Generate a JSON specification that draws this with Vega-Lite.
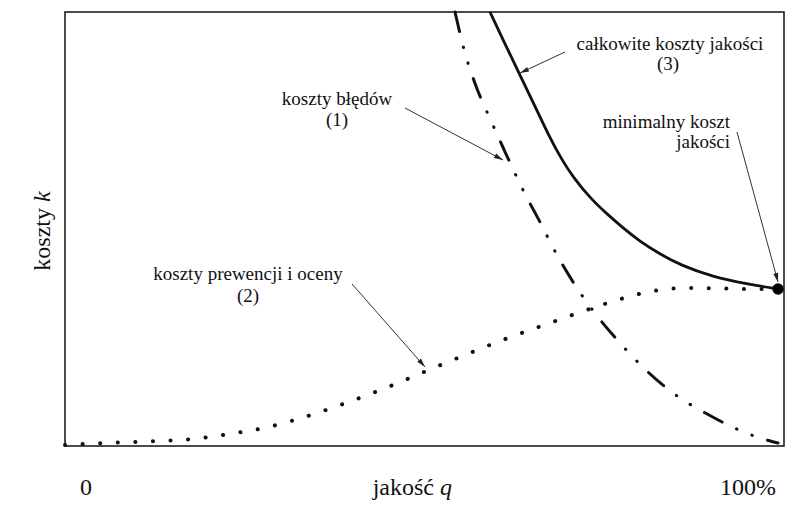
{
  "$schema": "https://vega.github.io/schema/vega-lite/v6.json",
  "width": 719,
  "height": 434,
  "autosize": {"type": "none"},
  "padding": {"left": 65, "top": 12, "right": 18, "bottom": 77},
  "background": "white",
  "config": {"view": {"stroke": "#111", "strokeWidth": 1.5}},
  "datasets": {
    "total": [
      {"q": 59.11, "k": 100}, {"q": 61.20, "k": 92.63}, {"q": 63.28, "k": 85.48},
      {"q": 65.37, "k": 78.30}, {"q": 67.45, "k": 70.97}, {"q": 69.12, "k": 65.90},
      {"q": 70.65, "k": 61.98}, {"q": 73.02, "k": 57.14}, {"q": 75.38, "k": 53.46},
      {"q": 77.61, "k": 50.23}, {"q": 79.97, "k": 47.12}, {"q": 82.75, "k": 44.24},
      {"q": 85.54, "k": 41.71}, {"q": 90.13, "k": 38.94}, {"q": 94.85, "k": 37.33},
      {"q": 99.17, "k": 36.18}
    ],
    "errors": [
      {"q": 54.24, "k": 100}, {"q": 55.63, "k": 90.55}, {"q": 57.16, "k": 82.95},
      {"q": 59.39, "k": 74.42}, {"q": 61.34, "k": 67.28}, {"q": 63.70, "k": 58.99},
      {"q": 66.06, "k": 51.61}, {"q": 68.43, "k": 44.01}, {"q": 70.93, "k": 37.10},
      {"q": 74.13, "k": 29.72}, {"q": 77.19, "k": 23.73}, {"q": 81.08, "k": 17.05},
      {"q": 84.56, "k": 12.21}, {"q": 89.57, "k": 7.14}, {"q": 93.74, "k": 3.69},
      {"q": 96.66, "k": 1.84}, {"q": 99.17, "k": 0.69}
    ],
    "prevention": [
      {"q": 0.0, "k": 0.23}, {"q": 5.56, "k": 0.69}, {"q": 12.80, "k": 1.15},
      {"q": 17.80, "k": 1.61}, {"q": 22.81, "k": 2.76}, {"q": 27.68, "k": 4.15},
      {"q": 32.41, "k": 6.22}, {"q": 37.13, "k": 8.76}, {"q": 41.72, "k": 11.52},
      {"q": 46.31, "k": 14.52}, {"q": 50.90, "k": 17.74}, {"q": 55.63, "k": 20.97},
      {"q": 60.50, "k": 24.19}, {"q": 67.04, "k": 28.11}, {"q": 71.77, "k": 30.88},
      {"q": 76.36, "k": 33.41}, {"q": 81.08, "k": 35.48}, {"q": 86.09, "k": 36.41},
      {"q": 91.10, "k": 36.29}, {"q": 95.97, "k": 36.18}, {"q": 99.17, "k": 36.18}
    ],
    "minimum": [{"q": 99.17, "k": 36.18}],
    "arrows": [
      {"id": "a1", "q0": 47.29, "k0": 77.88, "q1": 60.92, "k1": 65.90},
      {"id": "a2", "q0": 39.92, "k0": 37.33, "q1": 50.07, "k1": 18.20},
      {"id": "a3", "q0": 69.54, "k0": 90.78, "q1": 63.28, "k1": 85.94},
      {"id": "a4", "q0": 93.46, "k0": 72.35, "q1": 99.17, "k1": 37.79}
    ],
    "notes": [
      {"t": "koszty błędów", "q": 37.83, "k": 79.95},
      {"t": "(1)", "q": 37.83, "k": 75.12},
      {"t": "koszty prewencji i oceny", "q": 25.45, "k": 39.63},
      {"t": "(2)", "q": 25.45, "k": 34.56},
      {"t": "całkowite koszty jakości", "q": 84.14, "k": 92.63},
      {"t": "(3)", "q": 83.87, "k": 88.02}
    ],
    "notesRight": [
      {"t": "minimalny koszt", "q": 92.49, "k": 74.65},
      {"t": "jakości", "q": 92.49, "k": 70.05}
    ],
    "ends": [
      {"t": "0", "q": 2.92, "k": -9.68},
      {"t": "100%", "q": 95.0, "k": -9.68}
    ],
    "xTitle": [{"t": "jakość", "q": 51.32, "k": -9.68}],
    "xVar": [{"t": "q", "q": 52.16, "k": -9.68}],
    "yTitle": [{"t": "koszty", "q": -3.06, "k": 54.84}],
    "yVar": [{"t": "k", "q": -3.06, "k": 56.22}]
  },
  "encoding": {
    "x": {"field": "q", "type": "quantitative", "scale": {"domain": [0, 100], "nice": false, "zero": false}, "axis": null},
    "y": {"field": "k", "type": "quantitative", "scale": {"domain": [0, 100], "nice": false, "zero": false}, "axis": null}
  },
  "layer": [
    {"data": {"name": "prevention"}, "mark": {"type": "line", "interpolate": "monotone", "color": "#111", "strokeWidth": 4, "strokeCap": "round", "strokeDash": [0.1, 17.5]}},
    {"data": {"name": "errors"}, "mark": {"type": "line", "interpolate": "monotone", "color": "#111", "strokeWidth": 3, "strokeCap": "round", "strokeDash": [20, 16, 0.5, 16, 0.5, 16]}},
    {"data": {"name": "total"}, "mark": {"type": "line", "interpolate": "basis", "color": "#111", "strokeWidth": 2.8}},
    {"data": {"name": "minimum"}, "mark": {"type": "point", "filled": true, "color": "#000", "size": 130, "opacity": 1}},
    {"data": {"name": "arrows"}, "mark": {"type": "rule", "color": "#333", "strokeWidth": 1},
     "encoding": {"x": {"field": "q0", "type": "quantitative"}, "y": {"field": "k0", "type": "quantitative"}, "x2": {"field": "q1"}, "y2": {"field": "k1"}}},
    {"data": {"name": "arrows"}, "transform": [{"filter": "datum.id == 'a1'"}], "mark": {"type": "point", "shape": "M0,0L0.55,2L-0.55,2Z", "filled": true, "color": "#222", "size": 81, "opacity": 1, "angle": 118},
     "encoding": {"x": {"field": "q1", "type": "quantitative"}, "y": {"field": "k1", "type": "quantitative"}}},
    {"data": {"name": "arrows"}, "transform": [{"filter": "datum.id == 'a2'"}], "mark": {"type": "point", "shape": "M0,0L0.55,2L-0.55,2Z", "filled": true, "color": "#222", "size": 81, "opacity": 1, "angle": 139},
     "encoding": {"x": {"field": "q1", "type": "quantitative"}, "y": {"field": "k1", "type": "quantitative"}}},
    {"data": {"name": "arrows"}, "transform": [{"filter": "datum.id == 'a3'"}], "mark": {"type": "point", "shape": "M0,0L0.55,2L-0.55,2Z", "filled": true, "color": "#222", "size": 81, "opacity": 1, "angle": 245},
     "encoding": {"x": {"field": "q1", "type": "quantitative"}, "y": {"field": "k1", "type": "quantitative"}}},
    {"data": {"name": "arrows"}, "transform": [{"filter": "datum.id == 'a4'"}], "mark": {"type": "point", "shape": "M0,0L0.55,2L-0.55,2Z", "filled": true, "color": "#222", "size": 81, "opacity": 1, "angle": 165},
     "encoding": {"x": {"field": "q1", "type": "quantitative"}, "y": {"field": "k1", "type": "quantitative"}}},
    {"data": {"name": "notes"}, "mark": {"type": "text", "font": "Liberation Serif", "fontSize": 19, "color": "#111", "align": "center", "baseline": "middle"},
     "encoding": {"text": {"field": "t"}}},
    {"data": {"name": "notesRight"}, "mark": {"type": "text", "font": "Liberation Serif", "fontSize": 19, "color": "#111", "align": "right", "baseline": "middle"},
     "encoding": {"text": {"field": "t"}}},
    {"data": {"name": "ends"}, "mark": {"type": "text", "font": "Liberation Serif", "fontSize": 24, "color": "#111", "align": "center", "baseline": "middle"},
     "encoding": {"text": {"field": "t"}}},
    {"data": {"name": "xTitle"}, "mark": {"type": "text", "font": "Liberation Serif", "fontSize": 24, "color": "#111", "align": "right", "baseline": "middle"},
     "encoding": {"text": {"field": "t"}}},
    {"data": {"name": "xVar"}, "mark": {"type": "text", "font": "Liberation Serif", "fontStyle": "italic", "fontSize": 24, "color": "#111", "align": "left", "baseline": "middle"},
     "encoding": {"text": {"field": "t"}}},
    {"data": {"name": "yTitle"}, "mark": {"type": "text", "font": "Liberation Serif", "fontSize": 24, "color": "#111", "align": "right", "baseline": "middle", "angle": 270},
     "encoding": {"text": {"field": "t"}}},
    {"data": {"name": "yVar"}, "mark": {"type": "text", "font": "Liberation Serif", "fontStyle": "italic", "fontSize": 24, "color": "#111", "align": "left", "baseline": "middle", "angle": 270},
     "encoding": {"text": {"field": "t"}}}
  ]
}
